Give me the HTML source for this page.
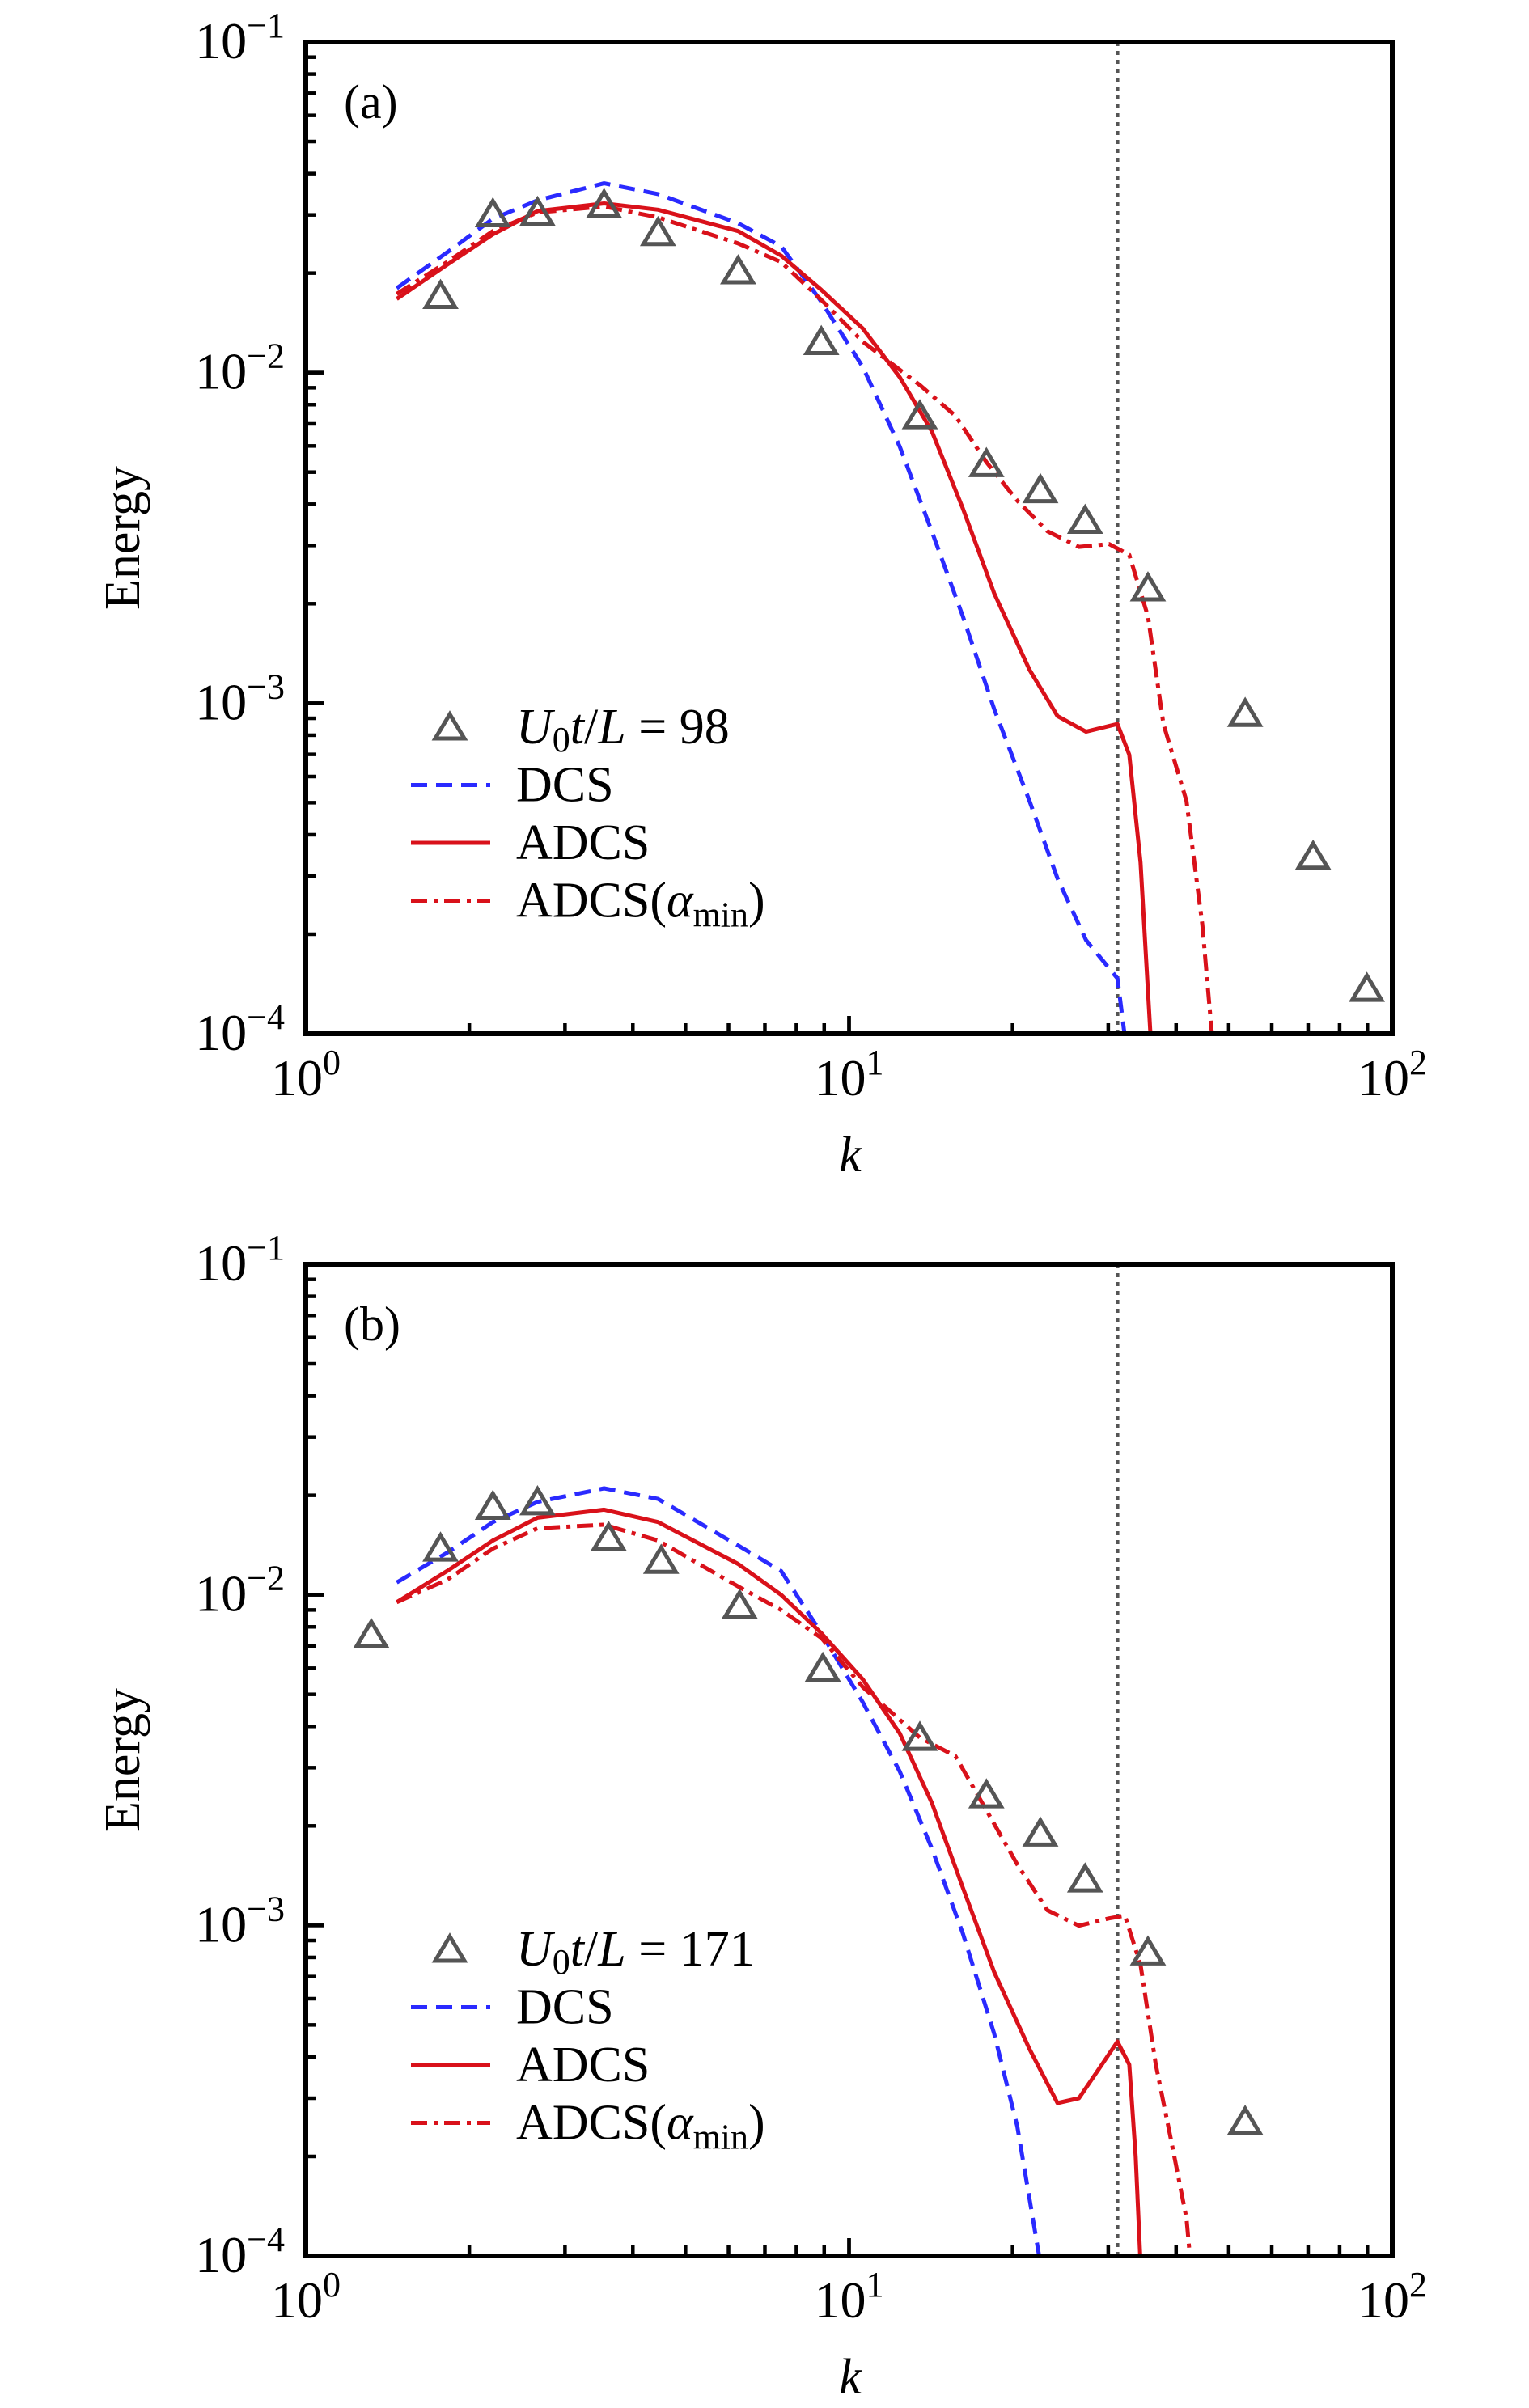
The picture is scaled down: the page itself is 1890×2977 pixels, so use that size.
<!DOCTYPE html>
<html><head><meta charset="utf-8"><style>
html,body{margin:0;padding:0;background:#fff;}
svg{display:block;font-family:"Liberation Serif","DejaVu Serif",serif;}
</style></head><body>
<svg id="fig" width="1890" height="2977" viewBox="0 0 1890 2977" xmlns="http://www.w3.org/2000/svg"></svg>
<script>
// ---------- data ----------
const kCut = 31.2;
// panel (a)
const aRefK = [1.77,2.21,2.67,3.54,4.45,6.25,8.89,13.5,17.9,22.5,27.2,35.5,53.6,71.5,89.8];
const aRefE = [0.0171,0.0302,0.0305,0.0322,0.0265,0.0203,0.0124,0.0074,0.0053,0.00442,0.00357,0.00223,0.00093,0.000344,0.000137];
const aDcsK = [1.47,1.82,2.21,2.67,3.54,4.45,6.25,7.50,8.89,10.6,12.4,14.2,16.2,18.5,21.5,24.2,27.3,31.2,32.4];
const aDcsE = [0.0180,0.0231,0.0292,0.0332,0.0374,0.0347,0.0283,0.0241,0.0164,0.0104,0.00597,0.00331,0.00183,0.00096,0.000505,0.000295,0.000192,0.000147,0.00009];
const aAdK = [1.47,1.82,2.21,2.67,3.54,4.45,6.25,7.50,8.89,10.6,12.4,14.2,16.2,18.5,21.5,24.2,27.3,31.2,32.8,34.4,36.0];
const aAdE = [0.0167,0.0212,0.0262,0.0308,0.0325,0.0311,0.0268,0.0226,0.0178,0.0136,0.00968,0.00665,0.00388,0.00215,0.00126,0.000914,0.00082,0.000865,0.000698,0.00033,0.00009];
const aAmK = [1.47,1.82,2.21,2.67,3.54,4.45,6.25,7.50,8.89,10.6,13.5,15.7,17.9,20.4,23.2,26.5,30.1,32.8,35.5,37.9,41.8,44.7,46.8];
const aAmE = [0.0173,0.0216,0.0268,0.0305,0.0318,0.0295,0.0246,0.0216,0.0166,0.0124,0.00917,0.0074,0.00536,0.0041,0.00331,0.00297,0.00303,0.00281,0.00183,0.000865,0.000506,0.000214,0.00009];
// panel (b)
const bRefK = [1.32,1.77,2.21,2.67,3.61,4.51,6.29,8.95,13.5,17.9,22.5,27.2,35.5,53.6];
const bRefE = [0.00758,0.01383,0.0185,0.0191,0.0149,0.0127,0.00929,0.00599,0.0037,0.00248,0.0019,0.00138,0.00083,0.000255];
const bDcsK = [1.47,1.82,2.21,2.67,3.54,4.45,6.25,7.50,8.89,10.6,12.4,14.2,16.2,18.5,20.4,22.5];
const bDcsE = [0.0109,0.0134,0.0166,0.0191,0.0210,0.0195,0.0141,0.0118,0.00766,0.00473,0.00292,0.00171,0.000945,0.00047,0.000247,0.000095];
const bAdK = [1.47,1.82,2.21,2.67,3.54,4.45,6.25,7.50,8.89,10.6,12.4,14.2,16.2,18.5,21.5,24.2,26.5,29.2,31.2,32.8,33.7,34.4];
const bAdE = [0.0095,0.0118,0.0146,0.0171,0.0181,0.0166,0.0124,0.0100,0.00766,0.00555,0.00381,0.00235,0.0013,0.000722,0.000422,0.00029,0.0003,0.000379,0.000445,0.000379,0.0002,0.000095];
const bAmK = [1.47,1.82,2.21,2.67,3.54,4.45,6.25,7.50,8.89,10.6,13.5,15.7,17.9,20.4,23.2,26.5,30.1,32.2,34.4,36.7,39.2,41.8,42.4];
const bAmE = [0.0095,0.0111,0.0138,0.0159,0.0163,0.0146,0.0106,0.0090,0.00741,0.00526,0.0037,0.00325,0.00223,0.00153,0.00111,0.000998,0.00105,0.00107,0.00076,0.000379,0.000222,0.00013,0.0001];
const xTickExp = [0,1,2];
const yTickExp = [-1,-2,-3,-4];

// ---------- drawing ----------
const NS = "http://www.w3.org/2000/svg";
const svg = document.getElementById('fig');
function mk(tag, attrs, parent){
  const e = document.createElementNS(NS, tag);
  for (const k in attrs) e.setAttribute(k, attrs[k]);
  (parent||svg).appendChild(e);
  return e;
}
const L = 378, R = 1721, H = 1226;
function panel(top, tag, label, refK, refE, dK, dE, aK, aE, mK, mE){
  const B = top + H;
  const g = mk('g', {});
  
  
  const xs = k => L + (Math.log10(k) - 0) / 2 * (R - L);
  const ys = e => top + (-1 - Math.log10(e)) / 3 * H;
  const clip = mk('clipPath', {id: 'clip-' + tag}, g);
  mk('rect', {x: L, y: top, width: R - L, height: H}, clip);
  const cl = mk('line', {x1: xs(kCut), x2: xs(kCut), y1: top, y2: B, stroke: '#555', 'stroke-width': 4.5, 'stroke-dasharray': '5,6'}, g);
  
  
  function series(K, E, color, dash, name){
    const d = K.map((k, i) => (i ? 'L' : 'M') + xs(k).toFixed(1) + ',' + ys(E[i]).toFixed(1)).join(' ');
    const p = mk('path', {d: d, fill: 'none', stroke: color, 'stroke-width': 5, 'stroke-dasharray': dash, 'clip-path': 'url(#clip-' + tag + ')', 'stroke-linejoin': 'round'}, g);
    
    
  }
  series(dK, dE, '#2a2aff', '20,11', 'dcs-line-' + tag);
  series(aK, aE, '#d9111a', 'none', 'adcs-line-' + tag);
  series(mK, mE, '#d9111a', '20,8,5,8', 'adcs-alpha-min-line-' + tag);
  function tri(cx, cy, parent){
    return mk('path', {d: `M${cx},${cy-16} L${cx+18},${cy+14} L${cx-18},${cy+14} Z`, fill: 'none', stroke: '#555', 'stroke-width': 5, 'stroke-linejoin': 'miter'}, parent);
  }
  refK.forEach((k, i) => {
    const t = tri(xs(k), ys(refE[i]), g);
    
    
  });
  const fr = mk('rect', {x: L, y: top, width: R - L, height: H, fill: 'none', stroke: '#000', 'stroke-width': 6}, g);
  
  
  for (let d = 0; d < 2; d++) for (let m = 1; m <= 10; m++) {
    const x = xs(m * Math.pow(10, d));
    const len = (m === 1 || m === 10) ? 22 : 13;
    mk('line', {x1: x, x2: x, y1: B, y2: B - len, stroke: '#000', 'stroke-width': 4.5}, g);
  }
  xTickExp.forEach(ex => {
    const t = mk('text', {x: xs(Math.pow(10, ex)), y: B + 76, 'font-size': 64, 'text-anchor': 'middle'}, g);
    
    
    t.textContent = '10';
    const s = mk('tspan', {dy: -26, 'font-size': 44}, t); s.textContent = String(ex);
  });
  for (let d = -4; d < -1; d++) for (let m = 1; m <= 10; m++) {
    const y = ys(m * Math.pow(10, d));
    const len = (m === 1 || m === 10) ? 22 : 13;
    mk('line', {x1: L, x2: L + len, y1: y, y2: y, stroke: '#000', 'stroke-width': 4.5}, g);
  }
  yTickExp.forEach(ex => {
    const t = mk('text', {x: 352, y: ys(Math.pow(10, ex)) + 20, 'font-size': 64, 'text-anchor': 'end'}, g);
    
    
    t.textContent = '10';
    const s = mk('tspan', {dy: -26, 'font-size': 44}, t); s.textContent = '\u2212' + Math.abs(ex);
  });
  const yt = mk('text', {x: 0, y: 0, 'font-size': 62, 'text-anchor': 'middle', transform: `translate(172,${top + H/2}) rotate(-90)`}, g);
  
  
  yt.textContent = 'Energy';
  const xt = mk('text', {x: 1051, y: B + 170, 'font-size': 62, 'font-style': 'italic', 'text-anchor': 'middle'}, g);
  
  
  xt.textContent = 'k';
  const pl = mk('text', {x: 425, y: top + 94, 'font-size': 60}, g);
  
  
  pl.textContent = label;
  const lg = mk('g', {}, g);
  
  
  const ly = top + 847, dy = 71.5;
  tri(556, ly, lg);
  const t0 = mk('text', {x: 638, y: ly + 20, 'font-size': 62}, lg);
  t0.innerHTML = '<tspan font-style="italic">U</tspan><tspan font-size="44" dy="10">0</tspan><tspan dy="-10" font-style="italic">t</tspan>/<tspan font-style="italic">L</tspan> = ' + (tag === 'a' ? '98' : '171');
  const items = [['#2a2aff','20,11','DCS'],['#d9111a','none','ADCS'],['#d9111a','20,8,5,8','ADCS(']];
  items.forEach((it, i) => {
    const yy = ly + dy * (i + 1);
    mk('line', {x1: 508, x2: 606, y1: yy, y2: yy, stroke: it[0], 'stroke-width': 5, 'stroke-dasharray': it[1]}, lg);
    const t = mk('text', {x: 638, y: yy + 20, 'font-size': 62}, lg);
    
    
    if (i < 2) t.textContent = it[2];
    else t.innerHTML = 'ADCS(<tspan font-style="italic">α</tspan><tspan font-size="44" dy="12">min</tspan><tspan dy="-12">)</tspan>';
  });
}
panel(52, 'a', '(a)', aRefK, aRefE, aDcsK, aDcsE, aAdK, aAdE, aAmK, aAmE);
panel(1563, 'b', '(b)', bRefK, bRefE, bDcsK, bDcsE, bAdK, bAdE, bAmK, bAmE);
</script>
</body></html>
